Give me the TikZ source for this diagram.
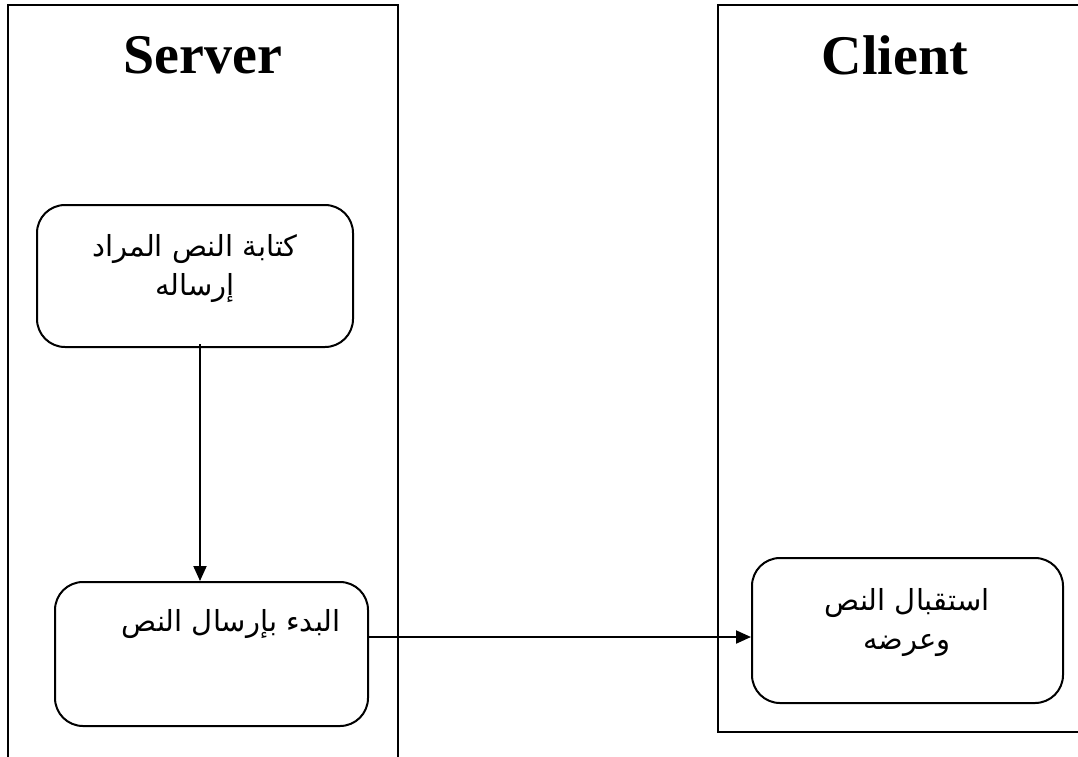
\documentclass[tikz,border=0pt]{standalone}
\usepackage{fontspec}
\setmainfont{Liberation Serif}
\newfontfamily\arabicfont[Script=Arabic]{DejaVu Sans}
\TeXXeTstate=1
\usetikzlibrary{arrows.meta}
\tikzset{
  lane/.style={draw, line width=1.6pt},
  stepbox/.style={draw, line width=2pt, rounded corners=28pt, inner sep=0pt},
  title/.style={font=\fontsize{56}{60}\selectfont\bfseries, inner sep=0pt},
  label/.style={font=\arabicfont\fontsize{29}{39}\selectfont, align=center, inner sep=0pt},
  flow/.style={line width=2pt, -{Triangle[length=15pt, width=13pt]}}
}
\begin{document}
\begin{tikzpicture}[x=1pt, y=-1pt]
  \useasboundingbox (0,0) rectangle (1078,756);
  \clip (0,0) rectangle (1078,756);
  \fill[white] (0,0) rectangle (1078,756);

  % swimlanes
  \draw[lane] (8,5) rectangle (398,790);
  \draw[lane] (718,5) rectangle (1100,732);
  \node[title] (srv) at (203,55) {Server};
  \node[title] (cli) at (895,55) {Client};

  % steps
  \node[stepbox, minimum width=316pt, minimum height=142pt] (write) at (195,276) {};
  \node[label] (writet) at (195,269) {\beginR كتابة النص المراد\endR\\\beginR إرساله\endR};

  \node[stepbox, minimum width=313pt, minimum height=144pt] (send) at (211.5,654) {};
  \node[label, anchor=east] (sendt) at (341,624) {\beginR البدء بإرسال النص\endR};

  \node[stepbox, minimum width=311pt, minimum height=145pt] (recv) at (907.5,630.5) {};
  \node[label] (recvt) at (907,623) {\beginR استقبال النص\endR\\\beginR وعرضه\endR};

  % connectors
  \coordinate (wout) at ([xshift=5pt, yshift=4pt]write.south);
  \draw[flow] (wout) -- (wout |- send.north);
  \coordinate (sout) at ([yshift=17pt]send.east);
  \draw[flow] (sout) -- (sout -| recv.west);
\end{tikzpicture}
\end{document}
